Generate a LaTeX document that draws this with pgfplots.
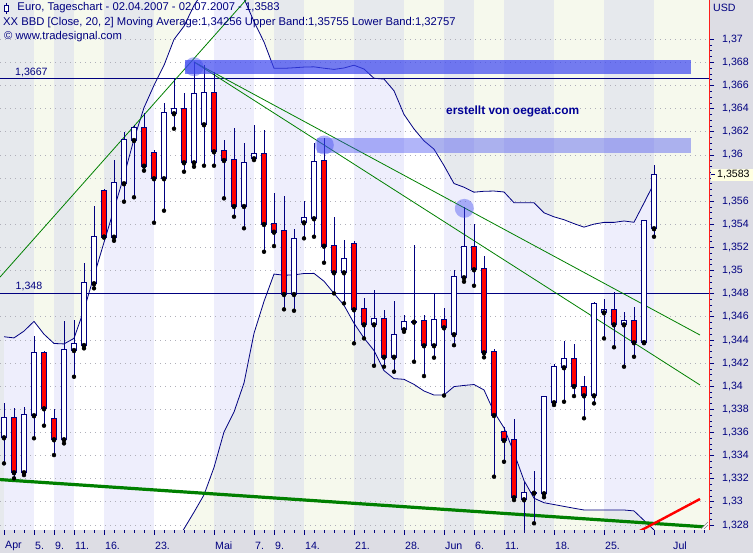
\documentclass[border=0pt]{standalone}
\usepackage{fontspec}
\setmainfont{Liberation Sans}
\usepackage{pgfplots}
\usepackage{pgfplotstable}
\pgfplotsset{compat=1.18}

\definecolor{navyc}{RGB}{0,0,128}
\definecolor{stripeY}{RGB}{246,249,237}
\definecolor{stripeO}{RGB}{170,170,240}
\definecolor{frameG}{RGB}{221,221,228}
\definecolor{trendG}{RGB}{0,128,0}
\definecolor{markB}{RGB}{60,70,240}
\definecolor{gridc}{RGB}{175,175,185}
\definecolor{lastY}{RGB}{255,255,225}

\newcommand\fs{\fontsize{10.6bp}{12bp}\selectfont}
\newcommand\ft{\fontsize{11.25bp}{13bp}\selectfont}
\newcommand\gstripe[2]{\fill[stripeO, opacity=0.2] (axis cs:#1,1.32) rectangle (axis cs:#2,1.38);}

% daily Bollinger bands (20, 2)
\pgfplotstableread{
i up lo
0 1.34428 1.32324
1 1.34418 1.32300
2 1.34477 1.32280
3 1.34561 1.32260
4 1.34450 1.32240
5 1.34370 1.32220
6 1.34366 1.32200
7 1.34414 1.32180
8 1.34661 1.32160
9 1.34954 1.32150
10 1.35244 1.32150
11 1.35532 1.32150
12 1.35820 1.32150
13 1.36136 1.32150
14 1.36409 1.32150
15 1.36602 1.32300
16 1.36775 1.32442
17 1.36999 1.32624
18 1.37113 1.32767
19 1.37293 1.32911
20 1.37425 1.33061
21 1.37505 1.33298
22 1.37512 1.33605
23 1.37453 1.33777
24 1.37352 1.34028
25 1.37153 1.34458
26 1.36977 1.34734
27 1.36749 1.34970
28 1.36749 1.34960
29 1.36754 1.34963
30 1.36760 1.34975
31 1.36762 1.34976
32 1.36750 1.34908
33 1.36740 1.34803
34 1.36752 1.34700
35 1.36776 1.34545
36 1.36743 1.34417
37 1.36663 1.34309
38 1.36656 1.34135
39 1.36555 1.34066
40 1.36350 1.34060
41 1.36225 1.34016
42 1.36122 1.33959
43 1.36050 1.33924
44 1.35908 1.33924
45 1.35753 1.33997
46 1.35721 1.34007
47 1.35678 1.34015
48 1.35686 1.33968
49 1.35688 1.33778
50 1.35680 1.33641
51 1.35587 1.33425
52 1.35587 1.33185
53 1.35587 1.33032
54 1.35500 1.32993
55 1.35465 1.32977
56 1.35440 1.32961
57 1.35406 1.32945
58 1.35376 1.32930
59 1.35402 1.32930
60 1.35417 1.32930
61 1.35417 1.32930
62 1.35429 1.32930
63 1.35418 1.32922
64 1.35585 1.32840
65 1.35755 1.32757
}\bands

% rising days: x low open close high
\pgfplotstableread{
x L O C H
0 1.33333 1.33558 1.33723 1.33852
2 1.33232 1.33256 1.33749 1.33820
3 1.33550 1.33749 1.34285 1.34434
6 1.33506 1.33541 1.34311 1.34567
7 1.34082 1.34313 1.34362 1.34573
8 1.34328 1.34356 1.34890 1.35063
9 1.34847 1.34890 1.35293 1.35558
11 1.35258 1.35293 1.35755 1.35956
12 1.35596 1.35755 1.36129 1.36201
13 1.35634 1.36129 1.36230 1.36259
16 1.35518 1.35798 1.36360 1.36446
17 1.36227 1.36360 1.36395 1.36654
19 1.35898 1.35936 1.36527 1.36806
20 1.35907 1.36265 1.36533 1.36778
24 1.35366 1.35558 1.35928 1.36101
25 1.35956 1.35971 1.36005 1.36259
29 1.34653 1.34797 1.35273 1.35357
30 1.35279 1.35417 1.35452 1.35602
31 1.35293 1.35452 1.35936 1.36106
34 1.34717 1.34985 1.35097 1.35264
37 1.34177 1.34535 1.34579 1.34833
39 1.34126 1.34255 1.34443 1.34737
40 1.34471 1.34492 1.34553 1.34616
41 1.34212 1.34558 1.34558 1.35221
43 1.34247 1.34354 1.34570 1.34803
45 1.34355 1.34450 1.34942 1.35005
46 1.34904 1.34942 1.35206 1.35552
52 1.32739 1.33022 1.33081 1.33172
53 1.32815 1.33079 1.33079 1.33267
54 1.33040 1.33074 1.33904 1.33915
55 1.33838 1.33861 1.34164 1.34192
56 1.33866 1.34164 1.34238 1.34391
59 1.33852 1.33921 1.34711 1.34731
60 1.34414 1.34639 1.34659 1.34754
62 1.34169 1.34535 1.34564 1.34644
64 1.34380 1.34380 1.35429 1.35429
65 1.35293 1.35366 1.35830 1.35913
}\upc

% falling days: x low open close high
\pgfplotstableread{
x L O C H
1 1.33204 1.33723 1.33256 1.33809
4 1.33659 1.34285 1.33809 1.34307
5 1.33405 1.33714 1.33541 1.33800
10 1.35293 1.35688 1.35293 1.35703
14 1.35864 1.36230 1.35907 1.36360
15 1.35414 1.36014 1.35798 1.36043
18 1.35855 1.36395 1.35936 1.36538
21 1.35907 1.36533 1.36031 1.36720
22 1.35625 1.36034 1.35956 1.36129
23 1.35466 1.35956 1.35558 1.36230
26 1.35163 1.36005 1.35403 1.36216
27 1.35212 1.35400 1.35336 1.35668
28 1.34665 1.35340 1.34797 1.35645
32 1.35068 1.35945 1.35215 1.36144
33 1.34803 1.35215 1.34985 1.35466
35 1.34371 1.35227 1.34665 1.35258
36 1.34414 1.34665 1.34535 1.34760
38 1.34169 1.34579 1.34255 1.34659
42 1.34088 1.34561 1.34354 1.34616
44 1.33920 1.34570 1.34509 1.34674
47 1.34869 1.35206 1.35011 1.35403
48 1.34250 1.35011 1.34293 1.35129
49 1.33218 1.34293 1.33751 1.34319
50 1.33347 1.33602 1.33535 1.33650
51 1.33016 1.33535 1.33040 1.33714
57 1.33915 1.34238 1.34002 1.34365
58 1.33723 1.33996 1.33921 1.34088
61 1.34337 1.34659 1.34535 1.34812
63 1.34255 1.34564 1.34380 1.34685
}\dnc

\pgfplotsset{
  bar/.style={only marks, mark=none, forget plot,
    error bars/.cd, y dir=plus, y explicit, error mark=none,
    error bar style={line width=#1}},
}

\begin{document}
\begin{tikzpicture}
\path[use as bounding box, fill=frameG] (0,0) rectangle (753bp,553bp);
\begin{axis}[
  at={(0,23bp)}, anchor=south west,
  scale only axis, width=709bp, height=530bp,
  xmin=-0.4, xmax=70.5, ymin=1.32757, ymax=1.3734,
  axis x line*=bottom, axis y line*=right,
  axis line style={red, line width=1bp},
  xtick={0,3,5,7,10,15,21,25,27,30,35,40,44,47,50,55,60,65},
  xticklabels={Apr,5.,9.,11.,16.,23.,Mai,7.,9.,14.,21.,28.,Jun,6.,11.,18.,25.,},
  minor xtick={0,1,...,70},
  ytick={1.328,1.33,1.332,1.334,1.336,1.338,1.34,1.342,1.344,1.346,1.348,1.35,1.352,1.354,1.356,1.358,1.36,1.362,1.364,1.366,1.368,1.37},
  yticklabels={{1,328},{1,33},{1,332},{1,334},{1,336},{1,338},{1,34},{1,342},{1,344},{1,346},{1,348},{1,35},{1,352},{1,354},{1,356},{},{1,36},{1,362},{1,364},{1,366},{1,368},{1,37}},
  minor y tick num=3,
  tick align=outside,
  major tick length=5bp, minor tick length=3bp,
  tick style={navyc, line width=0.8bp},
  ticklabel style={font=\fs, text=navyc, inner sep=0pt},
  x tick label style={anchor=west, xshift=1bp, yshift=-10.8bp},
  y tick label style={anchor=west, xshift=8bp},
]
% base colour, then the area inside the bands
\fill[stripeY] (axis cs:-1,1.32) rectangle (axis cs:72,1.38);
\addplot[fill=white, draw=none] coordinates {
 (0,1.34428) (1,1.34418) (2,1.34477) (3,1.34561) (4,1.34450) (5,1.34370) (6,1.34366) (7,1.34414)
 (8,1.34661) (9,1.34954) (10,1.35244) (11,1.35532) (12,1.35820) (13,1.36136) (14,1.36409) (15,1.36602)
 (16,1.36775) (17,1.36999) (18,1.37113) (19,1.37293) (20,1.37425) (21,1.37505) (22,1.37512) (23,1.37453)
 (24,1.37352) (25,1.37153) (26,1.36977) (27,1.36749) (28,1.36749) (29,1.36754) (30,1.36760) (31,1.36762)
 (32,1.36750) (33,1.36740) (34,1.36752) (35,1.36776) (36,1.36743) (37,1.36663) (38,1.36656) (39,1.36555)
 (40,1.36350) (41,1.36225) (42,1.36122) (43,1.36050) (44,1.35908) (45,1.35753) (46,1.35721) (47,1.35678)
 (48,1.35686) (49,1.35688) (50,1.35680) (51,1.35587) (52,1.35587) (53,1.35587) (54,1.35500) (55,1.35465)
 (56,1.35440) (57,1.35406) (58,1.35376) (59,1.35402) (60,1.35417) (61,1.35417) (62,1.35429) (63,1.35418)
 (64,1.35585) (65,1.35755)
 (65,1.32757) (64,1.32840) (63,1.32922) (62,1.32930) (61,1.32930) (60,1.32930) (59,1.32930) (58,1.32930)
 (57,1.32945) (56,1.32961) (55,1.32977) (54,1.32993) (53,1.33032) (52,1.33185) (51,1.33425) (50,1.33641)
 (49,1.33778) (48,1.33968) (47,1.34015) (46,1.34007) (45,1.33997) (44,1.33924) (43,1.33924) (42,1.33959)
 (41,1.34016) (40,1.34060) (39,1.34066) (38,1.34135) (37,1.34309) (36,1.34417) (35,1.34545) (34,1.34700)
 (33,1.34803) (32,1.34908) (31,1.34976) (30,1.34975) (29,1.34963) (28,1.34960) (27,1.34970) (26,1.34734)
 (25,1.34458) (24,1.34028) (23,1.33777) (22,1.33605) (21,1.33298) (20,1.33061) (19,1.32911) (18,1.32767)
 (17,1.32624) (16,1.32442) (15,1.32300) (14,1.32150) (13,1.32150) (12,1.32150) (11,1.32150) (10,1.32150)
 (9,1.32150) (8,1.32160) (7,1.32180) (6,1.32200) (5,1.32220) (4,1.32240) (3,1.32260) (2,1.32280)
 (1,1.32300) (0,1.32324)};
% darker stripes between date labels
\gstripe{-1}{3}\gstripe{5}{7}\gstripe{10}{15}\gstripe{21}{25}\gstripe{27}{30}
\gstripe{35}{40}\gstripe{44}{47}\gstripe{50}{55}\gstripe{60}{65}

% dotted grid
\pgfplotsinvokeforeach{1.328,1.33,1.332,1.334,1.336,1.338,1.34,1.342,1.344,1.346,1.348,1.35,1.352,1.354,1.356,1.358,1.36,1.362,1.364,1.366,1.368,1.37}{
  \draw[gridc, line width=0.9bp, dash pattern=on 1bp off 4bp] (axis cs:-0.4,#1) -- (axis cs:70.5,#1);}

% band lines
\addplot[navyc, line width=0.8bp] table[x=i, y=up] {\bands};
\addplot[navyc, line width=0.8bp] table[x=i, y=lo] {\bands};

% horizontal levels
\addplot[navyc, line width=1bp] coordinates {(-0.4,1.3666) (70.5,1.3666)};
\addplot[navyc, line width=1bp] coordinates {(-0.4,1.348) (70.5,1.348)};

% trend lines
\addplot[trendG, line width=0.8bp] coordinates {(-0.4,1.34944) (24.4,1.37360)};
\addplot[trendG, line width=0.8bp] coordinates {(19,1.36804) (69.6,1.34443)};
\addplot[trendG, line width=0.8bp] coordinates {(19,1.36804) (69.6,1.34011)};
\addplot[trendG, line width=3.2bp] coordinates {(-0.4,1.33193) (70.1,1.32784)};
\addplot[red, line width=2.4bp] coordinates {(63.4,1.32740) (69.6,1.33025)};

% candles: wick, body outline, body fill
\addplot[bar=0.9bp, error bar style={navyc}] table[x=x, y=L, y error plus expr=\thisrow{H}-\thisrow{L}] {\upc};
\addplot[bar=0.9bp, error bar style={navyc}] table[x=x, y=L, y error plus expr=\thisrow{H}-\thisrow{L}] {\dnc};
\addplot[bar=6.4bp, error bar style={navyc}] table[x=x, y expr=\thisrow{O}-0.00008, y error plus expr=\thisrow{C}-\thisrow{O}+0.00016] {\upc};
\addplot[bar=6.4bp, error bar style={navyc}] table[x=x, y expr=\thisrow{C}-0.00008, y error plus expr=\thisrow{O}-\thisrow{C}+0.00016] {\dnc};
\addplot[bar=4.6bp, error bar style={white}] table[x=x, y=O, y error plus expr=\thisrow{C}-\thisrow{O}] {\upc};
\addplot[bar=4.6bp, error bar style={red}] table[x=x, y=C, y error plus expr=\thisrow{O}-\thisrow{C}] {\dnc};

% marked zones
\fill[markB, opacity=0.7] (axis cs:18.1,1.36700) rectangle (axis cs:68.7,1.36821);
\fill[markB, opacity=0.4] (axis cs:31.27,1.36019) rectangle (axis cs:68.7,1.36146);
\fill[markB, opacity=0.4] (axis cs:19,1.36763) circle[radius=9.5bp];
\fill[markB, opacity=0.4] (axis cs:32.03,1.36086) circle[radius=9.5bp];
\fill[markB, opacity=0.4] (axis cs:46.03,1.35538) circle[radius=9.5bp];
\coordinate (lastp) at (axis cs:70.5,1.3583);
\end{axis}

% texts (pixel x, 553 - pixel y)
\begin{scope}[every node/.style={font=\ft, text=navyc, inner sep=0pt, anchor=west}]
\draw[navyc, line width=0.8bp] (6bp,550bp) -- (6bp,539bp);
\draw[navyc, line width=0.8bp, fill=white] (4bp,548bp) rectangle (8bp,542bp);
\node at (17.3bp,545bp) {Euro, Tageschart - 02.04.2007 - 02.07.2007 - 1,3583};
\node at (3bp,530bp) {XX BBD [Close, 20, 2] Moving Average:1,34256 Upper Band:1,35755 Lower Band:1,32757};
\node at (4bp,516.3bp) {© www.tradesignal.com};
\node[font=\fs] at (15bp,481bp) {1,3667};
\node[font=\fs] at (15.5bp,267bp) {1,348};
\node[font=\fontsize{11.9bp}{13bp}\selectfont\bfseries, text={rgb,255:red,0;green,0;blue,150}] at (446bp,442bp) {erstellt von oegeat.com};
\node[font=\fs] at (713bp,545bp) {USD};
\node[font=\fs] at (673bp,7.3bp) {Jul};
\end{scope}
\fill[lastY] ([xshift=1.5bp,yshift=-6bp]lastp) rectangle ([xshift=44bp,yshift=6bp]lastp);
\draw[navyc, line width=0.8bp] ([xshift=1.5bp]lastp) -- ([xshift=6bp]lastp);
\node[font=\fs, text=black, inner sep=0pt, anchor=west] at ([xshift=8bp]lastp) {1,3583};
\fill[white] (700bp,23.5bp) -- (708.5bp,23.5bp) -- (708.5bp,32bp) -- cycle;
\draw[gray, line width=0.6bp] (701bp,24bp) -- (708bp,31bp) (704bp,24bp) -- (708bp,28bp);
\end{tikzpicture}
\end{document}
